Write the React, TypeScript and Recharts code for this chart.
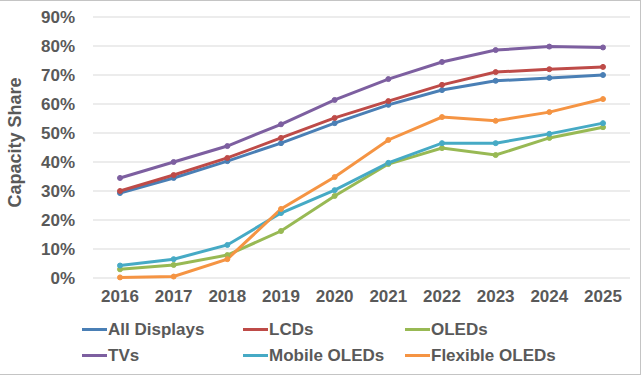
import { CartesianGrid, Legend, Line, LineChart, XAxis, YAxis } from "recharts"

const years = ["2016", "2017", "2018", "2019", "2020", "2021", "2022", "2023", "2024", "2025"]
const allDisplays = [29.3, 34.5, 40.3, 46.5, 53.4, 59.7, 64.8, 68, 69, 70]
const lcds = [30, 35.5, 41.4, 48.3, 55.2, 61, 66.6, 71, 72, 72.8]
const oleds = [3, 4.5, 7.9, 16.2, 28.3, 39.3, 44.8, 42.4, 48.3, 52]
const tvs = [34.5, 40, 45.5, 53, 61.4, 68.6, 74.5, 78.6, 79.8, 79.5]
const mobileOleds = [4.3, 6.5, 11.4, 22.4, 30.3, 39.7, 46.5, 46.5, 49.7, 53.4]
const flexibleOleds = [0.2, 0.5, 6.5, 23.8, 34.8, 47.6, 55.5, 54.2, 57.2, 61.7]
const yTicks = [0, 10, 20, 30, 40, 50, 60, 70, 80, 90]

const series = [
  { key: "all", name: "All Displays", color: "#4a7fb5", values: allDisplays },
  { key: "lcd", name: "LCDs", color: "#be4b48", values: lcds },
  { key: "oled", name: "OLEDs", color: "#98b954", values: oleds },
  { key: "tv", name: "TVs", color: "#7d5fa0", values: tvs },
  { key: "mobile", name: "Mobile OLEDs", color: "#46aac5", values: mobileOleds },
  { key: "flex", name: "Flexible OLEDs", color: "#f59443", values: flexibleOleds },
]

const data = years.map((year, i) => {
  const row: Record<string, string | number> = { year }
  series.forEach((s) => {
    row[s.key] = s.values[i]
  })
  return row
})

const textColor = "#595959"
const font = "'Liberation Sans', Arial, sans-serif"

function LegendBox() {
  return (
    <div
      style={{
        display: "grid",
        gridTemplateColumns: "161px 162px 200px",
        rowGap: 5,
        paddingLeft: 82,
        fontFamily: font,
        fontWeight: 700,
        fontSize: 17,
        color: textColor,
      }}
    >
      {series.map((s) => (
        <div key={s.key} style={{ display: "flex", alignItems: "center", height: 21 }}>
          <span
            style={{
              display: "inline-block",
              width: 25,
              height: 3,
              background: s.color,
              marginRight: 1,
            }}
          />
          <span>{s.name}</span>
        </div>
      ))}
    </div>
  )
}

export default function App() {
  return (
    <div
      style={{
        position: "absolute",
        left: 0,
        top: 0,
        width: 641,
        height: 375,
        border: "1px solid #c4c4c4",
        borderLeft: "none",
        boxSizing: "border-box",
        background: "#fff",
      }}
    >
      <div style={{ position: "absolute", left: 0, top: 0 }}>
        <LineChart
          width={642}
          height={376}
          data={data}
          margin={{ top: 16, right: 12, left: 0, bottom: 69 }}
        >
          <CartesianGrid vertical={false} stroke="#d9d9d9" strokeWidth={1} />
          <XAxis
            dataKey="year"
            tickLine={false}
            axisLine={false}
            tickMargin={6}
            height={30}
            padding={{ left: 27, right: 27 }}
            tick={{ fill: textColor, fontSize: 17, fontWeight: 700, fontFamily: font }}
          />
          <YAxis
            width={93}
            domain={[0, 90]}
            ticks={yTicks}
            tickFormatter={(v) => `${v}%`}
            tickLine={false}
            axisLine={false}
            tickMargin={12}
            tick={{ fill: textColor, fontSize: 17, fontWeight: 700, fontFamily: font }}
            label={{
              value: "Capacity Share",
              angle: -90,
              position: "insideLeft",
              offset: 15,
              dy: -5,
              style: {
                textAnchor: "middle",
                fill: textColor,
                fontSize: 18,
                fontWeight: 700,
                fontFamily: font,
              },
            }}
          />
          <Legend
            layout="horizontal"
            verticalAlign="middle"
            align="center"
            wrapperStyle={{ top: 318, left: 0, width: 642 }}
            content={() => <LegendBox />}
          />
          {series.map((s) => (
            <Line
              key={s.key}
              dataKey={s.key}
              name={s.name}
              stroke={s.color}
              strokeWidth={3}
              dot={{ r: 2.5, fill: s.color, stroke: s.color, strokeWidth: 1 }}
              isAnimationActive={false}
            />
          ))}
        </LineChart>
      </div>
    </div>
  )
}
